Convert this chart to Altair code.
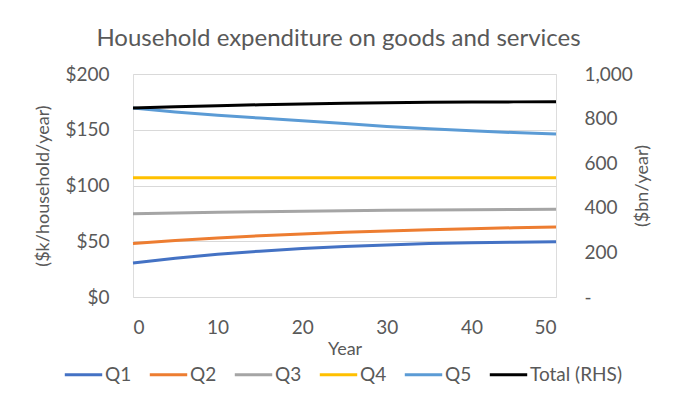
import altair as alt
import pandas as pd

years = [0, 5, 10, 15, 20, 25, 30, 35, 40, 45, 50]
q1 = [30.5, 34.8, 38.3, 41.1, 43.4, 45.2, 46.7, 47.9, 48.7, 49.2, 49.6]
q2 = [48.0, 50.7, 53.0, 55.0, 56.5, 58.0, 59.3, 60.4, 61.3, 62.1, 62.8]
q3 = [74.7, 75.4, 76.0, 76.5, 77.0, 77.4, 77.8, 78.1, 78.3, 78.5, 78.6]
q4 = [107, 107, 107, 107, 107, 107, 107, 107, 107, 107, 107]
q5 = [169.5, 166.0, 163.0, 160.5, 158.0, 155.5, 153.0, 151.0, 149.0, 147.5, 146.2]
total = [847, 853, 858, 862, 866, 869, 871, 873, 874, 875, 876]

series_names = ["Q1", "Q2", "Q3", "Q4", "Q5", "Total (RHS)"]
series_colors = ["#4472C4", "#ED7D31", "#A5A5A5", "#FFC000", "#5B9BD5", "#000000"]

rows = []
for name, vals in zip(series_names[:5], [q1, q2, q3, q4, q5]):
    for yr, v in zip(years, vals):
        rows.append({"year": yr, "value": v, "series": name})
df_q = pd.DataFrame(rows)
df_t = pd.DataFrame({"year": years, "value": total, "series": "Total (RHS)"})

FONT = "Lato"
TXT = "#595959"

color = alt.Color(
    "series:N",
    scale=alt.Scale(domain=series_names, range=series_colors),
    sort=series_names,
    legend=alt.Legend(
        title=None,
        orient="none",
        legendX=-70,
        legendY=280,
        direction="horizontal",
        symbolType="stroke",
        symbolSize=1400,
        symbolStrokeWidth=3,
        labelFont=FONT,
        labelFontSize=19,
        labelColor=TXT,
        labelOffset=1,
        columnPadding=11,
    ),
)

x = alt.X(
    "year:Q",
    scale=alt.Scale(domain=[0, 50], nice=False),
    axis=alt.Axis(
        values=[0, 10, 20, 30, 40, 50],
        title="Year",
        grid=False,
        ticks=False,
        domain=False,
        labelPadding=21,
        titlePadding=3,
        labelFont=FONT,
        labelFontSize=19,
        labelColor=TXT,
        titleFont=FONT,
        titleFontSize=18,
        titleFontWeight="normal",
        titleColor=TXT,
    ),
)

left = alt.Chart(df_q).mark_line(strokeWidth=3).encode(
    x=x,
    y=alt.Y(
        "value:Q",
        scale=alt.Scale(domain=[0, 200], nice=False),
        axis=alt.Axis(
            values=[0, 50, 100, 150, 200],
            format="$,.0f",
            title="($k/household/year)",
            ticks=False,
            domain=False,
            grid=True,
            gridColor="#D9D9D9",
            gridWidth=1,
            labelPadding=24,
            titlePadding=12,
            labelFont=FONT,
            labelFontSize=19,
            labelColor=TXT,
            titleFont=FONT,
            titleFontSize=18,
            titleFontWeight="normal",
            titleColor=TXT,
        ),
    ),
    color=color,
)

right = alt.Chart(df_t).mark_line(strokeWidth=3).encode(
    x=x,
    y=alt.Y(
        "value:Q",
        scale=alt.Scale(domain=[0, 1000], nice=False),
        axis=alt.Axis(
            orient="right",
            values=[0, 200, 400, 600, 800, 1000],
            labelExpr="datum.value == 0 ? '-' : format(datum.value, ',')",
            title="($bn/year)",
            titleAngle=270,
            ticks=False,
            domain=False,
            grid=False,
            labelPadding=28,
            titlePadding=19,
            labelFont=FONT,
            labelFontSize=19,
            labelColor=TXT,
            titleFont=FONT,
            titleFontSize=18,
            titleFontWeight="normal",
            titleColor=TXT,
        ),
    ),
    color=color,
)

chart = (
    alt.layer(left, right)
    .resolve_scale(y="independent")
    .properties(
        width=423,
        height=223,
        title=alt.TitleParams(
            "Household expenditure on goods and services",
            font=FONT,
            fontSize=24,
            fontWeight="normal",
            color=TXT,
            anchor="middle",
            offset=14,
            dx=-6,
        ),
        autosize=alt.AutoSizeParams(type="none"),
        padding={"left": 125, "top": 66, "right": 124, "bottom": 100},
    )
    .configure_view(stroke=None)
    .configure(background="white")
)

chart.save("out.html", embed_options={"renderer": "svg", "actions": False})
